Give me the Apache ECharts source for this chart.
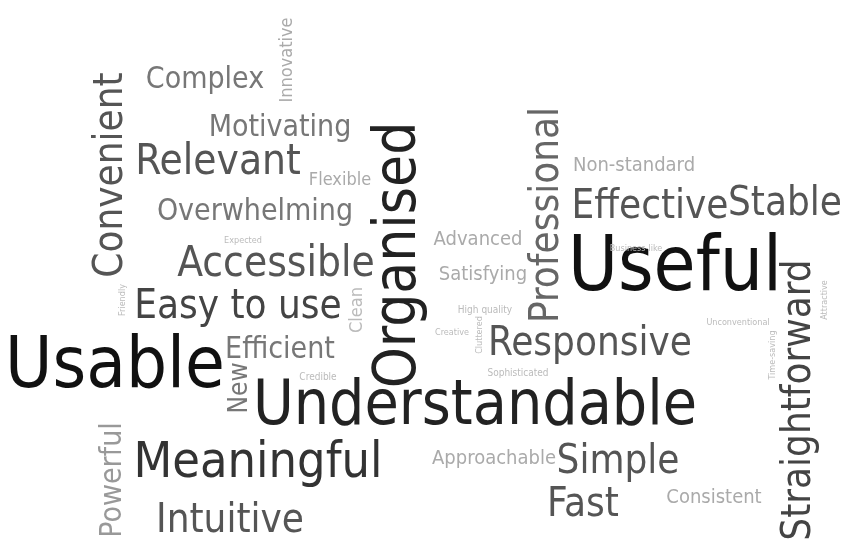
<!DOCTYPE HTML>
<html>
<head>
<meta charset="utf-8">
<script src="https://cdn.jsdelivr.net/npm/echarts@6/dist/echarts.min.js"></script>
<style>
	html, body { margin: 0; padding: 0; background: #fff; }
	#cloud { width: 850px; height: 552px; }
</style>
</head>
<body>
<div id="cloud"></div>
<script type="text/javascript">
	// words and where they sit in the cloud (x, y in a 850 x 552 frame)
	var words = ['Innovative', 'Complex', 'Convenient', 'Motivating', 'Relevant', 'Flexible', 'Organised',
		'Professional', 'Non-standard', 'Effective', 'Stable', 'Overwhelming', 'Expected', 'Advanced',
		'Accessible', 'Useful', 'Straightforward', 'Business-like', 'Satisfying', 'Easy to use', 'Friendly',
		'Clean', 'High quality', 'Unconventional', 'Attractive', 'Creative', 'Cluttered', 'Responsive',
		'Usable', 'Efficient', 'Time-saving', 'Credible', 'Sophisticated', 'New', 'Understandable',
		'Powerful', 'Meaningful', 'Approachable', 'Simple', 'Fast', 'Consistent', 'Intuitive'];
	var wx = [287, 205, 112, 280, 218, 340, 400, 548, 634, 650, 785, 255, 243, 478, 276, 675, 800, 636, 483,
		238, 123, 357, 485, 738, 825, 452, 480, 590, 115, 280, 773, 318, 518, 240, 475, 113, 258, 494, 618,
		583, 714, 230];
	var wy = [60, 80, 175, 128, 163, 180, 255, 215, 166, 208, 205, 212, 241, 240, 265, 270, 400, 249, 275,
		308, 300, 310, 310, 323, 300, 333, 335, 345, 368, 350, 355, 377, 373, 388, 408, 480, 464, 459, 463,
		506, 498, 522];
	var fontSizes = [18, 30, 40, 30, 42, 18, 58, 40, 20, 40, 40, 30, 9, 20, 42, 76, 40, 9, 20, 40, 9, 18, 10,
		9, 9, 9, 9, 40, 72, 30, 9, 10, 10, 26, 62, 30, 50, 20, 40, 40, 20, 40];
	var rotations = [90, 0, 90, 0, 0, 0, 90, 90, 0, 0, 0, 0, 0, 0, 0, 0, 90, 0, 0, 0, 90, 90, 0, 0, 90, 0, 90,
		0, 0, 0, 90, 0, 0, 90, 0, 90, 0, 0, 0, 0, 0, 0];
	var shades = ['#aaa', '#777', '#555', '#777', '#555', '#aaa', '#222', '#666', '#aaa', '#555', '#555',
		'#777', '#bbb', '#aaa', '#555', '#111', '#444', '#bbb', '#aaa', '#444', '#bbb', '#bbb', '#bbb', '#bbb',
		'#bbb', '#bbb', '#bbb', '#555', '#111', '#777', '#bbb', '#bbb', '#bbb', '#777', '#222', '#999', '#333',
		'#aaa', '#555', '#555', '#aaa', '#555'];

	var points = words.map(function(w, i) {
		return {
			name: w,
			value: [wx[i], wy[i]],
			label: {
				fontSize: fontSizes[i],
				rotate: rotations[i],
				color: shades[i]
			}
		};
	});

	var cloud = echarts.init(document.getElementById('cloud'));
	cloud.setOption({
		animation: false,
		grid: { left: 0, right: 0, top: 0, bottom: 0 },
		xAxis: { type: 'value', min: 0, max: 850, show: false },
		yAxis: { type: 'value', min: 0, max: 552, inverse: true, show: false },
		series: [{
			type: 'scatter',
			symbolSize: 0,
			itemStyle: { opacity: 1 },
			data: points,
			label: {
				show: true,
				opacity: 1,
				position: 'inside',
				formatter: '{b}',
				fontFamily: "'Liberation Sans Narrow', 'DejaVu Sans Condensed', sans-serif",
				align: 'center',
				verticalAlign: 'middle'
			},
			labelLayout: { hideOverlap: false }
		}]
	});
</script>
</body>
</html>
